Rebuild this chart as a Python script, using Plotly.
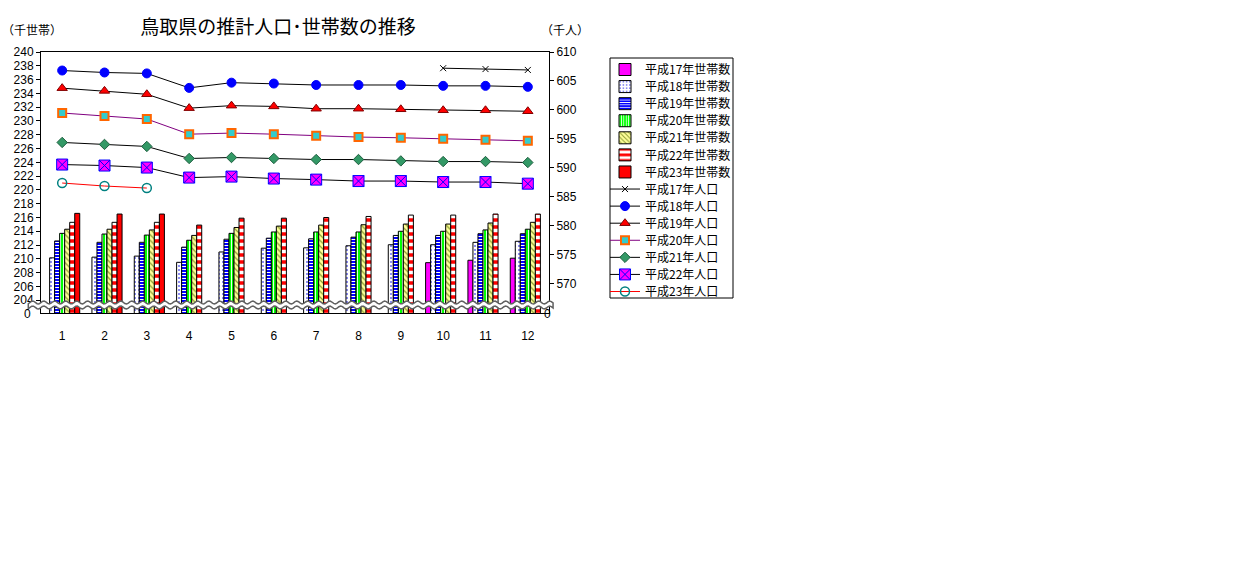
import numpy as np
import plotly.graph_objects as go

categories = ["1", "2", "3", "4", "5", "6", "7", "8", "9", "10", "11", "12"]

# households (thousand) - left axis
hh_h17 = [None, None, None, None, None, None, None, None, None, 209.45, 209.8, 210.1]
hh_h18 = [210.15, 210.25, 210.4, 209.5, 211.0, 211.55, 211.6, 211.9, 212.05, 212.05, 212.4, 212.55]
hh_h19 = [212.6, 212.4, 212.4, 211.7, 212.85, 213.0, 212.9, 213.15, 213.4, 213.4, 213.65, 213.65]
hh_h20 = [213.7, 213.6, 213.45, 212.7, 213.7, 213.9, 213.9, 213.9, 214.0, 214.0, 214.2, 214.3]
hh_h21 = [214.3, 214.3, 214.2, 213.4, 214.55, 214.75, 214.9, 214.95, 215.05, 215.05, 215.2, 215.3]
hh_h22 = [215.3, 215.3, 215.3, 214.9, 215.9, 215.9, 216.0, 216.15, 216.35, 216.35, 216.5, 216.5]
hh_h23 = [216.6, 216.5, 216.5, None, None, None, None, None, None, None, None, None]

# population (thousand) - right axis
pop_h17 = [None, None, None, None, None, None, None, None, None, 607.2, 607.05, 606.9]
pop_h18 = [606.8, 606.46, 606.3, 603.8, 604.7, 604.55, 604.3, 604.3, 604.3, 604.15, 604.15, 603.98]
pop_h19 = [603.75, 603.28, 602.7, 600.3, 600.73, 600.6, 600.2, 600.2, 600.1, 599.93, 599.93, 599.76]
pop_h20 = [599.46, 598.94, 598.42, 595.8, 595.99, 595.8, 595.52, 595.3, 595.18, 595.0, 594.83, 594.65]
pop_h21 = [594.37, 594.03, 593.68, 591.6, 591.77, 591.6, 591.42, 591.42, 591.18, 591.07, 591.07, 590.9]
pop_h22 = [590.55, 590.38, 590.03, 588.3, 588.47, 588.13, 587.95, 587.7, 587.7, 587.53, 587.53, 587.25]
pop_h23 = [587.36, 586.84, 586.49, None, None, None, None, None, None, None, None, None]

left_ticks = list(range(204, 241, 2))
left_text = [str(v) for v in left_ticks]
right_ticks = list(range(570, 611, 5))
right_text = [str(v) for v in right_ticks]

FONT = "Noto Sans CJK JP"
TICKFONT = "Liberation Sans"
L, R, T, B = 41, 696, 52, 261
W_plot = 1245 - L - R
H = 574 - T - B
def px_x(x):  # figure pixel -> paper x
    return (x - L) / W_plot
def px_y(y):  # figure pixel -> paper y
    return (574 - B - y) / H

fig = go.Figure()

bar_specs = [
    ("平成17年世帯数", hh_h17, "#FF00FF", "", "#FF00FF", 8, 0.3),
    ("平成18年世帯数", hh_h18, "#FFFFFF", ".", "#6666EE", 4, 0.2),
    ("平成19年世帯数", hh_h19, "#0000FF", "-", "#FFFFFF", 3, 0.35),
    ("平成20年世帯数", hh_h20, "#00FF00", "|", "#FFFFFF", 3, 0.3),
    ("平成21年世帯数", hh_h21, "#FFFF99", "\\", "#8A9A30", 4, 0.3),
    ("平成22年世帯数", hh_h22, "#FF0000", "-", "#FFFFFF", 7, 0.5),
    ("平成23年世帯数", hh_h23, "#FF0000", "", "#FF0000", 8, 0.3),
]
line_specs = [
    ("平成17年人口", pop_h17, "black", dict(symbol="x-thin", size=6, color="black", line=dict(color="black", width=1))),
    ("平成18年人口", pop_h18, "black", dict(symbol="circle", size=9, color="#0000FF", line=dict(color="#0000FF", width=1))),
    ("平成19年人口", pop_h19, "black", dict(symbol="triangle-up", size=9, color="#FF0000", line=dict(color="#800000", width=1))),
    ("平成20年人口", pop_h20, "#800080", dict(symbol="square", size=8, color="#33CCCC", line=dict(color="#FF6600", width=2))),
    ("平成21年人口", pop_h21, "black", dict(symbol="diamond", size=8, color="#339966", line=dict(color="#1F5F40", width=1))),
    ("平成22年人口", pop_h22, "black", dict(symbol="square-x", size=11, color="#FF00FF", line=dict(color="#0000FF", width=1))),
    ("平成23年人口", pop_h23, "#FF0000", dict(symbol="circle-open", size=9, color="#008080", line=dict(color="#008080", width=1.5))),
]

legend_ids = ["legend"] + [f"legend{i}" for i in range(2, 15)]

k = 0
for name, vals, col, shape, fg, sz, sol in bar_specs:
    fig.add_trace(go.Bar(
        x=categories, y=vals, name=name, legend=legend_ids[k],
        marker=dict(color=col, line=dict(color="black", width=1),
                    pattern=dict(shape=shape, fgcolor=fg, bgcolor=col, size=sz, solidity=sol,
                                 fgopacity=1)),
        yaxis="y",
    ))
    k += 1
for name, vals, lc, mk in line_specs:
    fig.add_trace(go.Scatter(
        x=categories, y=vals, name=name, mode="lines+markers", legend=legend_ids[k],
        line=dict(color=lc, width=1), marker=mk, yaxis="y2",
    ))
    k += 1

# broken-axis wavy band (decoration, paper coordinates)
xs = np.linspace(-0.025, 1.008, 300)
amp = 1.5 / H
period = 11.0 / W_plot
top = 10.5 / H + amp * np.sin(2 * np.pi * xs / period)
bot = 5.5 / H + amp * np.sin(2 * np.pi * xs / period)
path = "M " + " L ".join(f"{x:.5f},{y:.5f}" for x, y in zip(xs, top))
path += " L " + " L ".join(f"{x:.5f},{y:.5f}" for x, y in zip(xs[::-1], bot[::-1])) + " Z"
fig.add_shape(type="path", path=path, xref="paper", yref="paper",
              fillcolor="white", line=dict(color="#606060", width=1.5), layer="above")

# legend frame
fig.add_shape(type="rect", xref="paper", yref="paper",
              x0=px_x(610), x1=px_x(733), y0=px_y(298), y1=px_y(58),
              line=dict(color="black", width=1), fillcolor="white", layer="below")

leg_common = dict(xanchor="left", yanchor="top", borderwidth=0, bgcolor="rgba(0,0,0,0)",
                  font=dict(size=12, family=FONT), tracegroupgap=0, traceorder="normal",
                  itemwidth=30)
spacing = 222 / 13
legends = {lid: dict(x=px_x(605), y=px_y(55 + spacing * i), **leg_common)
           for i, lid in enumerate(legend_ids)}

fig.update_layout(
    width=1245, height=574,
    margin=dict(l=L, r=R, t=T, b=B, autoexpand=False),
    paper_bgcolor="white", plot_bgcolor="white",
    font=dict(family=FONT, size=12, color="black"),
    barmode="group", bargap=0.17, bargroupgap=0,
    title=dict(text="鳥取県の推計人口･世帯数の推移", x=278 / 1245, xanchor="center",
               y=1 - 27 / 574, yanchor="middle", font=dict(size=19, family=FONT)),
    xaxis=dict(type="category", range=[-0.5, 11.5], showline=True, linecolor="black",
               linewidth=1, mirror=True, ticks="", ticklabelstandoff=12, showgrid=False,
               tickfont=dict(size=12, family=TICKFONT), automargin=False),
    yaxis=dict(range=[202.15, 240], tickvals=left_ticks, ticktext=left_text,
               showline=True, linecolor="black", linewidth=1, ticks="outside", ticklen=4,
               tickcolor="black", showgrid=False, zeroline=False,
               tickfont=dict(size=12, family=TICKFONT), automargin=False),
    yaxis2=dict(range=[564.9, 610], tickvals=right_ticks, ticktext=right_text,
                overlaying="y", side="right", showline=True, linecolor="black", linewidth=1,
                ticks="outside", ticklen=4, tickcolor="black", showgrid=False, zeroline=False,
                tickfont=dict(size=12, family=TICKFONT), automargin=False),
    showlegend=True,
    annotations=[
        dict(text="（千世帯）", x=px_x(0), y=px_y(30), xref="paper", yref="paper",
             xanchor="left", yanchor="middle", showarrow=False, font=dict(size=12)),
        dict(text="（千人）", x=px_x(565), y=px_y(30), xref="paper", yref="paper",
             xanchor="center", yanchor="middle", showarrow=False, font=dict(size=12)),
        dict(text="0", x=px_x(33), y=px_y(314), xref="paper", yref="paper",
             xanchor="right", yanchor="middle", showarrow=False,
             font=dict(size=12, family=TICKFONT)),
        dict(text="0", x=px_x(547), y=px_y(314), xref="paper", yref="paper",
             xanchor="center", yanchor="middle", showarrow=False,
             font=dict(size=12, family=TICKFONT)),
    ],
)
fig.update_layout(**legends)

fig.write_html("out.html", config={"displayModeBar": False},
               post_script="document.body.style.margin='0';")
